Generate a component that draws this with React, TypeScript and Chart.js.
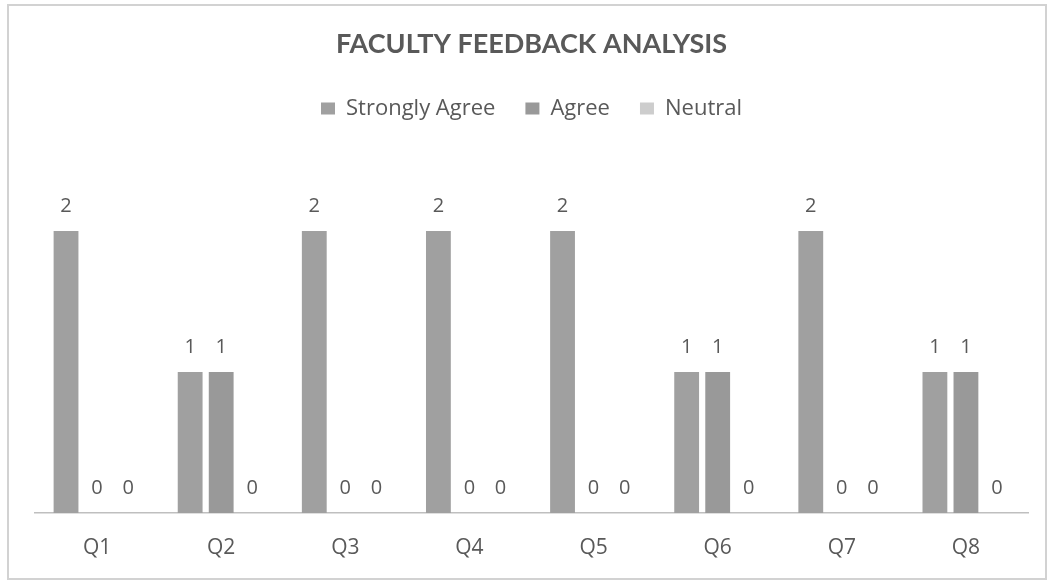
import React, { useEffect, useRef } from "react";
import { Chart, registerables } from "chart.js";

Chart.register(...registerables);

const categories = ["Q1", "Q2", "Q3", "Q4", "Q5", "Q6", "Q7", "Q8"];
const stronglyAgree = [2, 1, 2, 2, 2, 1, 2, 1];
const agree = [0, 1, 0, 0, 0, 1, 0, 1];
const neutral = [0, 0, 0, 0, 0, 0, 0, 0];
const seriesNames = ["Strongly Agree", "Agree", "Neutral"];
const titleText = "FACULTY FEEDBACK ANALYSIS";

const FONT = "'Open Sans', Lato, sans-serif";
const TITLE_FONT = "Lato, 'Open Sans', sans-serif";
const TEXT = "#595959";

const valueLabels = {
  id: "valueLabels",
  afterDatasetsDraw(chart: any) {
    const ctx = chart.ctx;
    ctx.save();
    ctx.fillStyle = TEXT;
    ctx.font = `20px ${FONT}`;
    ctx.textAlign = "center";
    ctx.textBaseline = "alphabetic";
    chart.data.datasets.forEach((ds: any, i: number) => {
      const meta = chart.getDatasetMeta(i);
      meta.data.forEach((el: any, j: number) => {
        ctx.fillText(String(ds.data[j]), el.x, el.y - 19);
      });
    });
    ctx.restore();
  },
};

export default function App() {
  const ref = useRef<HTMLCanvasElement>(null);
  useEffect(() => {
    if (!ref.current) return;
    const chart = new Chart(ref.current, {
      type: "bar",
      data: {
        labels: categories,
        datasets: [
          { label: seriesNames[0], data: stronglyAgree, backgroundColor: "#a0a0a0" },
          { label: seriesNames[1], data: agree, backgroundColor: "#999999" },
          { label: seriesNames[2], data: neutral, backgroundColor: "#cdcdcd" },
        ],
      },
      options: {
        animation: false,
        responsive: false,
        maintainAspectRatio: false,
        layout: { padding: { left: 35, right: 19, top: 28, bottom: 0 } },
        datasets: { bar: { categoryPercentage: 0.75, barPercentage: 0.8 } },
        plugins: {
          title: {
            display: true,
            text: titleText,
            color: TEXT,
            font: { family: TITLE_FONT, size: 27, weight: "bold" },
            padding: { top: 0, bottom: 7 },
          },
          legend: {
            display: true,
            labels: {
              color: TEXT,
              font: { family: FONT, size: 22 },
              boxWidth: 14,
              boxHeight: 12,
              padding: 30,
            },
          },
          tooltip: { enabled: false },
        },
        scales: {
          x: {
            grid: { display: false, drawTicks: false },
            border: { display: true, color: "#bfbfbf", width: 1.5 },
            ticks: { color: TEXT, font: { family: FONT, size: 21 }, padding: 22 },
            afterFit: (scale: any) => {
              scale.height = 67;
            },
          },
          y: {
            display: false,
            min: 0,
            max: 2.72,
          },
        },
      },
      plugins: [valueLabels],
    });
    return () => chart.destroy();
  }, []);
  return (
    <div style={{ position: "absolute", left: 0, top: 0, width: 1047, height: 580, background: "#fff" }}>
      <div
        style={{
          position: "absolute",
          left: 7,
          top: 4,
          width: 1036,
          height: 572,
          border: "2px solid #d2d2d2",
        }}
      />
      <canvas ref={ref} width={1047} height={580} style={{ position: "absolute", left: 0, top: 0 }} />
    </div>
  );
}
